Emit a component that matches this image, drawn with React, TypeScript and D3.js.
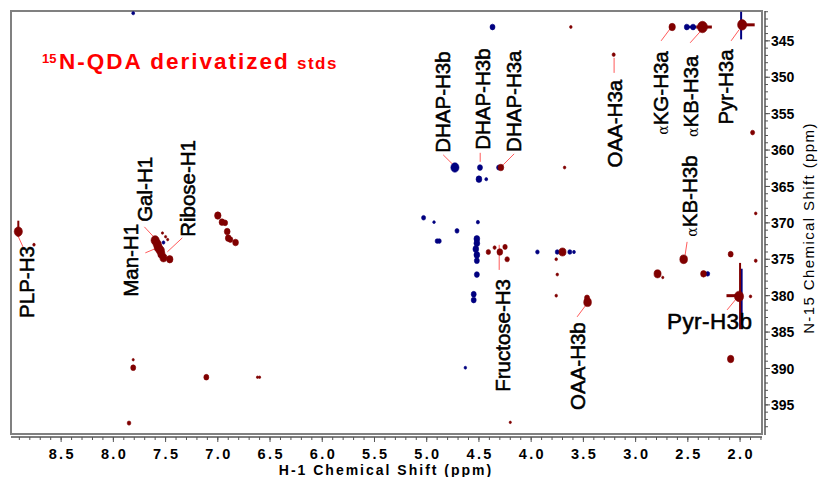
import React from 'react';
import * as d3 from 'd3';

// axis ticks (ppm)
const hTicks = [8.5, 8.0, 7.5, 7.0, 6.5, 6.0, 5.5, 5.0, 4.5, 4.0, 3.5, 3.0, 2.5, 2.0];
const nTicks = [345, 350, 355, 360, 365, 370, 375, 380, 385, 390, 395];

// cross peaks: [H-1 ppm, N-15 ppm, relative intensity]
const redPeaks: [number, number, number][] = [
  [8.91, 371.2, 4], [8.76, 373.0, 0.4],
  [7.6, 372.4, 4], [7.58, 372.9, 4], [7.57, 373.4, 4], [7.55, 373.8, 4], [7.54, 374.3, 3], [7.52, 374.8, 3],
  [7.46, 375.0, 2.5], [7.53, 371.4, 0.3], [7.48, 372.3, 0.3], [7.5, 371.9, 0.3],
  [7.0, 369.0, 2.5], [6.96, 369.9, 2], [6.93, 370.0, 1.5], [6.91, 371.2, 2], [6.9, 372.1, 2], [6.88, 372.3, 1.5], [6.83, 372.7, 2],
  [7.81, 389.9, 1.5], [7.81, 388.8, 0.3], [7.11, 391.2, 1.5], [6.62, 391.2, 0.3], [6.6, 391.2, 0.3], [7.85, 397.5, 0.8],
  [4.29, 362.4, 2], [3.68, 362.4, 0.4],
  [4.41, 374.0, 1.2], [4.35, 373.4, 0.6], [4.3, 374.0, 2], [4.25, 373.3, 1.2], [4.23, 375.0, 1.2],
  [3.7, 374.0, 3], [3.76, 375.0, 0.4], [3.75, 377.1, 0.4], [3.76, 380.0, 0.4],
  [3.46, 380.9, 3.5], [3.465, 380.3, 1.5], [4.2, 397.4, 0.3],
  [2.54, 375.0, 3.5], [2.79, 377.0, 3], [2.74, 377.5, 0.3], [2.35, 377.0, 2], [2.09, 374.3, 1.5],
  [2.01, 380.1, 5], [2.09, 388.7, 2.5],
  [1.85, 375.2, 0.5], [1.9, 380.1, 0.4], [1.85, 368.7, 0.4], [1.88, 357.6, 1],
  [3.62, 343.1, 0.4], [3.21, 346.9, 0.6], [2.65, 343.1, 2.5], [2.36, 343.1, 6], [1.98, 342.8, 5],
];

const bluePeaks: [number, number, number][] = [
  [7.81, 341.2, 0.5], [4.37, 343.1, 1.5],
  [4.73, 362.4, 4], [4.49, 362.4, 1.5], [4.5, 364.0, 2], [4.43, 364.0, 0.5], [4.31, 362.4, 1.2],
  [5.03, 369.3, 1], [4.93, 369.9, 0.4], [4.71, 371.1, 1], [4.51, 369.9, 0.6], [4.9, 372.5, 1], [4.88, 372.5, 1],
  [4.52, 372.2, 2], [4.52, 372.8, 2], [4.53, 373.6, 2], [4.52, 374.4, 2], [4.52, 375.2, 1.5], [4.52, 377.1, 1.5],
  [4.55, 379.8, 1.5], [4.55, 380.6, 1.5],
  [3.94, 374.0, 0.8], [4.63, 389.9, 0.4], [3.75, 374.0, 1], [3.63, 374.0, 1], [3.59, 374.0, 0.5],
  [2.31, 377.0, 1], [2.51, 343.1, 1.5], [2.45, 343.1, 1.5], [7.55, 374.4, 1], [7.52, 372.7, 0.5],
];

// ridges: vertical [H, N from, N to], horizontal [N, H from, H to]
const redVRidges: [number, number, number][] = [[8.91, 369.7, 371.9], [2.0, 375.5, 384.6]];
const blueVRidges: [number, number, number][] = [[1.985, 376.3, 384.0], [1.99, 341.0, 344.8]];
const redHRidges: [number, number, number][] = [[342.8, 2.0, 1.86], [343.1, 2.42, 2.27], [380.0, 2.13, 2.0]];
const blueHRidges: [number, number, number][] = [[343.1, 2.52, 2.42]];

// assignments: text, anchor (H ppm, N ppm), rotated?
const labels: { text: string; alpha?: boolean; h: number; n: number; rot: boolean }[] = [
  { text: 'PLP-H3', h: 8.756, n: 383.05, rot: true },
  { text: 'Man-H1', h: 7.761, n: 380.16, rot: true },
  { text: 'Gal-H1', h: 7.627, n: 369.86, rot: true },
  { text: 'Ribose-H1', h: 7.215, n: 371.92, rot: true },
  { text: 'DHAP-H3b', h: 4.775, n: 360.38, rot: true },
  { text: 'DHAP-H3b', h: 4.392, n: 359.97, rot: true },
  { text: 'DHAP-H3a', h: 4.096, n: 360.25, rot: true },
  { text: 'Fructose-H3', h: 4.201, n: 393.2, rot: true },
  { text: 'OAA-H3a', h: 3.129, n: 362.4, rot: true },
  { text: 'OAA-H3b', h: 3.483, n: 395.7, rot: true },
  { text: 'KG-H3a', alpha: true, h: 2.689, n: 357.9, rot: true },
  { text: 'KB-H3a', alpha: true, h: 2.402, n: 358.2, rot: true },
  { text: 'Pyr-H3a', h: 2.067, n: 356.5, rot: true },
  { text: 'KB-H3b', alpha: true, h: 2.411, n: 371.9, rot: true },
  { text: 'Pyr-H3b', h: 2.699, n: 384.56, rot: false },
];

// leader lines [H1, N1, H2, N2]
const leaders: [number, number, number, number][] = [
  [8.909, 371.92, 8.852, 373.71],
  [7.694, 374.12, 7.579, 373.43],
  [7.703, 370.55, 7.579, 372.47],
  [7.34, 372.06, 7.483, 373.98],
  [4.842, 360.66, 4.746, 362.03],
  [4.488, 360.38, 4.488, 361.62],
  [4.163, 360.52, 4.268, 362.03],
  [4.306, 373.02, 4.306, 376.46],
  [3.206, 347.34, 3.206, 349.4],
  [3.56, 382.91, 3.474, 381.26],
  [2.756, 345.0, 2.67, 343.35],
  [2.478, 345.27, 2.383, 343.76],
  [2.086, 345.0, 2.01, 343.49],
  [2.507, 372.61, 2.526, 374.4],
  [2.124, 381.95, 2.029, 380.3],
];

const FONT = '"Liberation Sans", Arial, sans-serif';
const RED = '#800000';
const BLUE = '#000080';

export default function App() {
  const x = d3.scaleLinear().domain([8.98, 1.79]).range([11, 762]);
  const y = d3.scaleLinear().domain([340.9, 399.0]).range([11, 434]);
  const r = d3.scaleSqrt().domain([0, 6]).range([0, 5]);

  const minorH = d3.range(18, 90).map((d) => d / 10);
  const minorN = d3.range(341, 399);

  const peak = (p: [number, number, number], color: string, i: number) => (
    <ellipse key={i} cx={x(p[0])} cy={y(p[1])} rx={r(p[2])} ry={r(p[2]) * 1.15} fill={color} stroke={color} strokeWidth={0.6} />
  );

  return (
    <svg width={821} height={477} style={{ position: 'absolute', left: 0, top: 0, background: '#fff' }} fontFamily={FONT}>
      <rect x={0} y={0} width={821} height={477} fill="#fff" />
      <rect x={x(8.98)} y={y(340.9)} width={x(1.79) - x(8.98)} height={y(399) - y(340.9)} fill="none" stroke="#808080" strokeWidth={2} />

      {/* title */}
      <text x={42} y={63} fill="#ff0000" fontWeight="bold" fontSize={13}>15</text>
      <text x={59} y={69} fill="#ff0000" fontWeight="bold" fontSize={22.5} letterSpacing={2}>N-QDA derivatized</text>
      <text x={297} y={69} fill="#ff0000" fontWeight="bold" fontSize={17} letterSpacing={1.5}>stds</text>

      {/* leader lines */}
      {leaders.map((l, i) => (
        <line key={i} x1={x(l[0])} y1={y(l[1])} x2={x(l[2])} y2={y(l[3])} stroke="#ff5a5a" strokeWidth={1} />
      ))}

      {/* ridges */}
      {blueVRidges.map((s, i) => (
        <line key={'bv' + i} x1={x(s[0])} x2={x(s[0])} y1={y(s[1])} y2={y(s[2])} stroke={BLUE} strokeWidth={2} />
      ))}
      {blueHRidges.map((s, i) => (
        <line key={'bh' + i} x1={x(s[1])} x2={x(s[2])} y1={y(s[0])} y2={y(s[0])} stroke={BLUE} strokeWidth={2.5} />
      ))}
      {bluePeaks.map((p, i) => peak(p, BLUE, i))}
      {redVRidges.map((s, i) => (
        <line key={'rv' + i} x1={x(s[0])} x2={x(s[0])} y1={y(s[1])} y2={y(s[2])} stroke={RED} strokeWidth={2} />
      ))}
      {redHRidges.map((s, i) => (
        <line key={'rh' + i} x1={x(s[1])} x2={x(s[2])} y1={y(s[0])} y2={y(s[0])} stroke={RED} strokeWidth={3} />
      ))}
      {redPeaks.map((p, i) => peak(p, RED, i))}

      {/* assignment labels */}
      {labels.map((l, i) =>
        l.rot ? (
          <text key={i} transform={`translate(${x(l.h)},${y(l.n)}) rotate(-90)`} fontSize={20.5} fill="#000" stroke="#000" strokeWidth={0.55}>
            {l.alpha && <tspan fontFamily='"DejaVu Serif", serif' fontSize={14} strokeWidth={0}>α</tspan>}
            <tspan>{l.text}</tspan>
          </text>
        ) : (
          <text key={i} x={x(l.h)} y={y(l.n)} fontSize={22.5} letterSpacing={0.4} fill="#000" stroke="#000" strokeWidth={0.55}>{l.text}</text>
        )
      )}

      {/* bottom axis */}
      <line x1={11} x2={762} y1={437} y2={437} stroke="#555" strokeWidth={1.5} />
      {minorH.map((t) => (
        <line key={'mh' + t} x1={x(t)} x2={x(t)} y1={437} y2={440} stroke="#555" />
      ))}
      {hTicks.map((t) => (
        <g key={'h' + t}>
          <line x1={x(t)} x2={x(t)} y1={437} y2={442} stroke="#555" />
          <text x={x(t) + 1.2} y={459} textAnchor="middle" fontSize={14.5} fontWeight="bold" letterSpacing={2.4}>{t.toFixed(1)}</text>
        </g>
      ))}
      <text x={386} y={475} textAnchor="middle" fontSize={14} fontWeight="bold" letterSpacing={2}>H-1 Chemical Shift (ppm)</text>

      {/* right axis */}
      <line x1={765} x2={765} y1={11} y2={435} stroke="#555" strokeWidth={1.5} />
      {minorN.map((t) => (
        <line key={'mn' + t} x1={765} x2={768} y1={y(t)} y2={y(t)} stroke="#555" />
      ))}
      {nTicks.map((t) => (
        <g key={'n' + t}>
          <line x1={765} x2={770} y1={y(t)} y2={y(t)} stroke="#555" />
          <text x={771} y={y(t)} dy="0.36em" fontSize={14} fontWeight="bold">{t}</text>
        </g>
      ))}
      <text transform="translate(814,228) rotate(-90)" textAnchor="middle" fontSize={15} letterSpacing={1.4}>N-15 Chemical Shift (ppm)</text>
    </svg>
  );
}
